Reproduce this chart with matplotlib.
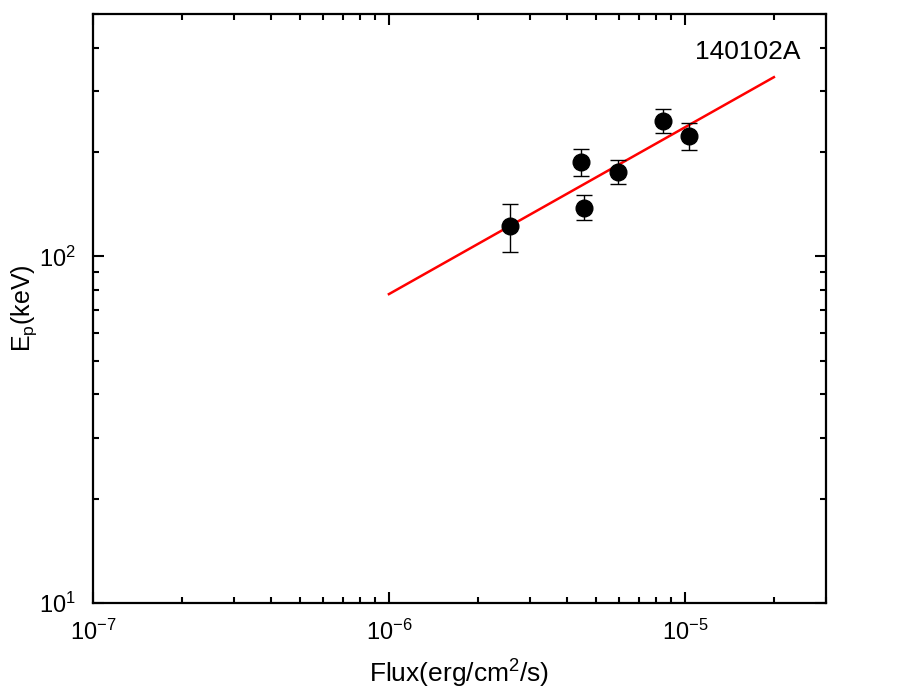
import matplotlib
matplotlib.use('Agg')
import matplotlib.pyplot as plt
import numpy as np

plt.rcParams['font.family'] = ['Liberation Sans', 'DejaVu Sans']
plt.rcParams['mathtext.fontset'] = 'custom'
plt.rcParams['mathtext.rm'] = 'Liberation Sans'
plt.rcParams['mathtext.it'] = 'Liberation Sans'

# data
flux = [2.56e-6, 4.46e-6, 4.56e-6, 5.94e-6, 8.43e-6, 1.03e-5]
ep = [122.7, 187.5, 138.0, 175.0, 246.0, 223.0]
ep_hi = [142.0, 204.0, 150.0, 189.0, 266.0, 243.0]
ep_lo = [102.7, 170.0, 127.0, 162.0, 227.0, 203.0]

# power-law fit: Ep = A * (F/1e-6)^k
fit_A = 77.8
fit_k = 0.481
fit_range = [1e-6, 2e-5]

grb_name = "140102A"

fig = plt.figure(figsize=(9.17, 6.95), dpi=100)
ax = fig.add_axes([93/917, 1-603/695, (826-93)/917, (603-14)/695])

yerr = [np.array(ep) - np.array(ep_lo), np.array(ep_hi) - np.array(ep)]
ax.errorbar(flux, ep, yerr=yerr, fmt='o', color='black', markersize=12,
            ecolor='black', elinewidth=1, capsize=6, capthick=1, zorder=3)

fx = np.logspace(np.log10(fit_range[0]), np.log10(fit_range[1]), 50)
ax.plot(fx, fit_A * (fx / 1e-6) ** fit_k, color='red', linewidth=1.8, zorder=2)

ax.set_xscale('log')
ax.set_yscale('log')
ax.set_xlim(1e-7, 3e-5)
ax.set_ylim(10, 500)

ax.set_xticks([1e-7, 1e-6, 1e-5])
ax.set_xticklabels([r'$10^{-7}$', r'$10^{-6}$', r'$10^{-5}$'])
ax.set_yticks([10, 100])
ax.set_yticklabels([r'$10^{1}$', r'$10^{2}$'])

for s in ax.spines.values():
    s.set_linewidth(1.6)
ax.tick_params(which='both', direction='in', top=True, right=True, width=1.5)
ax.tick_params(which='major', length=8, labelsize=17)
ax.tick_params(axis='x', which='major', pad=12)
ax.tick_params(axis='y', which='major', pad=12)
ax.tick_params(which='minor', length=4)

ax.set_xlabel(r'Flux(erg/cm$^2$/s)', fontsize=19, labelpad=9)
ax.set_ylabel(r'E$_\mathrm{p}$(keV)', fontsize=18, labelpad=0)

ax.text(0.893, 0.935, grb_name, transform=ax.transAxes, fontsize=19,
        ha='center', va='center')

plt.savefig("out.png", dpi=100)
